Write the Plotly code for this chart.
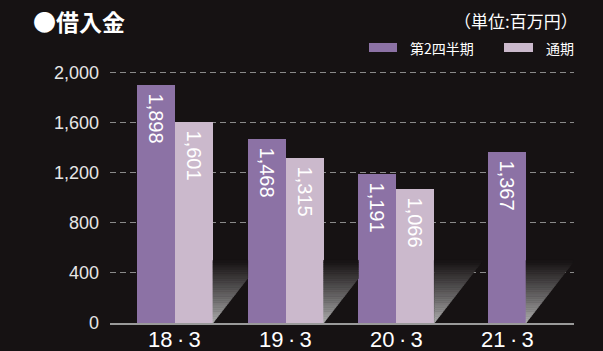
import plotly.graph_objects as go

# ---- data ----
categories = ["18\u2009·\u20093", "19\u2009·\u20093", "20\u2009·\u20093", "21\u2009·\u20093"]
q2_values = [1898, 1468, 1191, 1367]          # 第2四半期
full_values = [1601, 1315, 1066, None]         # 通期
y_tick_vals = [0, 400, 800, 1200, 1600, 2000]

# ---- style ----
BG = "#161213"
BG_RGB = (22, 18, 19)
SHADOW_RGB = (180, 180, 180)
PURPLE = "#8c72a5"
LIGHT = "#cbb9cc"
FONT = "Liberation Sans, Arial, Noto Sans CJK JP"
JP = "Noto Sans CJK JP, Liberation Sans"
BAR_W = 0.343
SHADOW_W = 0.44    # decorative shadow width (axis units)
SHADOW_H = 500     # decorative shadow height (value units)
N_SLICES = 28
X_MAX = 3.6

idx = list(range(len(categories)))
q2_x, full_x, full_y = [], [], []
for i in idx:
    if full_values[i] is None:
        q2_x.append(i)
    else:
        q2_x.append(i - BAR_W / 2)
        full_x.append(i + BAR_W / 2)
        full_y.append(full_values[i])

fig = go.Figure()

# decorative gradient shadows (drawn as thin horizontal slices)
left_edges = sorted([x - BAR_W / 2 for x in q2_x] + [x - BAR_W / 2 for x in full_x])
for i in idx:
    x0 = (i + BAR_W if full_values[i] is not None else i + BAR_W / 2)
    nxt = [e for e in left_edges if e > x0 + 1e-6]
    xmax = min(nxt[0], X_MAX) if nxt else X_MAX

    def hx(y):
        return x0 + SHADOW_W * y / SHADOW_H

    for k in range(N_SLICES):
        ya = SHADOW_H * k / N_SLICES
        yb = SHADOW_H * (k + 1) / N_SLICES
        pts = [(x0, ya), (x0, yb)]
        pts.append((min(hx(yb), xmax), yb))
        yclip = SHADOW_H * (xmax - x0) / SHADOW_W
        if ya < yclip < yb:
            pts.append((xmax, yclip))
        pts.append((min(hx(ya), xmax), ya))
        t = ((k + 0.5) / N_SLICES) ** 0.85
        col = "rgb({},{},{})".format(*[round(s * (1 - t) + b * t) for s, b in zip(SHADOW_RGB, BG_RGB)])
        fig.add_trace(go.Scatter(
            x=[p[0] for p in pts] + [pts[0][0]], y=[p[1] for p in pts] + [pts[0][1]],
            mode="lines", line=dict(width=0.6, color=col), fill="toself", fillcolor=col,
            hoverinfo="skip", showlegend=False))

PAD = "\u00a0"
fig.add_trace(go.Bar(
    x=q2_x, y=q2_values, width=BAR_W, marker=dict(color=PURPLE, line=dict(width=0)),
    text=[PAD + f"{v:,}" for v in q2_values], textposition="inside", insidetextanchor="end",
    textangle=90, constraintext="none",
    insidetextfont=dict(color="white", size=20, family=FONT),
    name="第2四半期", showlegend=False))
fig.add_trace(go.Bar(
    x=full_x, y=full_y, width=BAR_W, marker=dict(color=LIGHT, line=dict(width=0)),
    text=[PAD + f"{v:,}" for v in full_y], textposition="inside", insidetextanchor="end",
    textangle=90, constraintext="none",
    insidetextfont=dict(color="white", size=20, family=FONT),
    name="通期", showlegend=False))

L, R, T, B = 110, 29, 71, 28
W, H = 603, 351
pw, ph = W - L - R, H - T - B

def px(x):
    return (x - L) / pw

def py(y):
    return (H - B - y) / ph

shapes = [
    dict(type="rect", xref="paper", yref="paper", x0=px(369), x1=px(397), y0=py(52), y1=py(43),
         fillcolor=PURPLE, line=dict(width=0)),
    dict(type="rect", xref="paper", yref="paper", x0=px(504), x1=px(533), y0=py(52), y1=py(43),
         fillcolor=LIGHT, line=dict(width=0)),
]
annotations = [
    dict(text="<b>●借入金</b>", xref="paper", yref="paper", x=px(31), y=py(21),
         xanchor="left", yanchor="middle", showarrow=False,
         font=dict(family=JP, size=23, color="white")),
    dict(text="（単位:百万円）", xref="paper", yref="paper", x=px(580), y=py(20),
         xanchor="right", yanchor="middle", showarrow=False,
         font=dict(family=JP, size=17, color="white")),
    dict(text="第2四半期", xref="paper", yref="paper", x=px(408), y=py(48),
         xanchor="left", yanchor="middle", showarrow=False,
         font=dict(family=JP, size=14, color="white")),
    dict(text="通期", xref="paper", yref="paper", x=px(544), y=py(48),
         xanchor="left", yanchor="middle", showarrow=False,
         font=dict(family=JP, size=14, color="white")),
]
for i, c in zip(idx, categories):
    annotations.append(dict(text=c, xref="x", yref="paper", x=i, y=py(339),
                            xanchor="center", yanchor="middle", showarrow=False,
                            font=dict(family=FONT, size=22, color="white")))

fig.update_layout(
    width=W, height=H, margin=dict(l=L, r=R, t=T, b=B, pad=0, autoexpand=False),
    paper_bgcolor=BG, plot_bgcolor=BG, barmode="overlay", bargap=0,
    shapes=shapes, annotations=annotations, showlegend=False,
    xaxis=dict(range=[-0.587, 3.605], tickvals=idx, showticklabels=False,
               showgrid=False, zeroline=False, showline=True, linecolor="#9a9a9a",
               linewidth=2, ticks="", automargin=False),
    yaxis=dict(range=[0, 2010], tickvals=y_tick_vals, tickformat=",",
               showgrid=True, gridcolor="#8a8a8a", gridwidth=1, griddash="6px,4px",
               zeroline=False, showline=False, ticks="", ticklabelstandoff=10,
               automargin=False,
               tickfont=dict(family=FONT, size=18, color="#e6e6e6")),
)

fig.write_html("out.html", config={"displayModeBar": False}, post_script=(
    "document.body.style.margin='0';document.body.style.padding='0';"
    "document.body.style.overflow='hidden';document.body.style.background='" + BG + "';"))
